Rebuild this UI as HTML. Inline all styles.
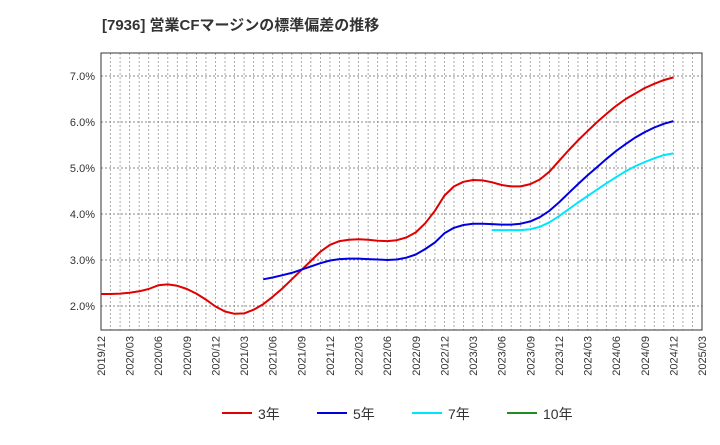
<!DOCTYPE html>
<html><head><meta charset="utf-8"><style>
body{margin:0;background:#fff;font-family:"Liberation Sans","Noto Sans CJK JP",sans-serif}
</style></head><body>
<svg id="c" width="720" height="440" xmlns="http://www.w3.org/2000/svg" font-family="Liberation Sans, Noto Sans CJK JP, sans-serif">
<text x="102" y="30" font-size="15" font-weight="bold" fill="#333">[7936]  営業CFマージンの標準偏差の推移</text>
<g id="grid"></g><g id="axes"></g><g id="series"></g>
<g id="legend"></g>
</svg>
<script>
const xLabels=["2019/12","2020/03","2020/06","2020/09","2020/12","2021/03","2021/06","2021/09","2021/12","2022/03","2022/06","2022/09","2022/12","2023/03","2023/06","2023/09","2023/12","2024/03","2024/06","2024/09","2024/12","2025/03"];
const yTicks=[2,3,4,5,6,7];
const s3=[2.26,2.26,2.27,2.29,2.32,2.37,2.45,2.47,2.44,2.37,2.27,2.14,1.99,1.88,1.83,1.84,1.92,2.04,2.2,2.38,2.58,2.78,2.98,3.18,3.33,3.41,3.44,3.45,3.44,3.42,3.41,3.43,3.49,3.6,3.8,4.07,4.4,4.6,4.7,4.74,4.73,4.69,4.63,4.6,4.6,4.65,4.75,4.92,5.15,5.38,5.6,5.8,6.0,6.18,6.35,6.5,6.62,6.74,6.83,6.91,6.97];
const s5Start=17;
const s5=[2.58,2.62,2.67,2.72,2.79,2.86,2.93,2.99,3.02,3.03,3.03,3.02,3.01,3.0,3.01,3.05,3.12,3.24,3.38,3.58,3.7,3.76,3.79,3.79,3.78,3.77,3.77,3.79,3.84,3.93,4.07,4.25,4.45,4.65,4.84,5.02,5.2,5.37,5.52,5.66,5.78,5.88,5.96,6.02];
const s7Start=41;
const s7=[3.65,3.65,3.65,3.65,3.67,3.72,3.82,3.95,4.1,4.25,4.39,4.53,4.67,4.8,4.93,5.04,5.13,5.21,5.28,5.32];
const L=101,R=702,T=53,B=330,NM=63;
const x=i=>L+(R-L)*i/NM;
const y=v=>306-(v-2)*46;
const NS="http://www.w3.org/2000/svg";
function mk(p,tag,at){const e=document.createElementNS(NS,tag);for(const k in at)e.setAttribute(k,at[k]);p.appendChild(e);return e;}
const g=document.getElementById('grid'),ax=document.getElementById('axes'),sg=document.getElementById('series'),lg=document.getElementById('legend');
mk(g,'rect',{x:L,y:T,width:R-L,height:B-T,fill:'#fff',stroke:'none'});
for(let i=1;i<NM;i++){const l=mk(g,'line',{x1:x(i),x2:x(i),y1:T,y2:B,stroke:'#999','stroke-dasharray':'2,2','stroke-width':0.8});

}
yTicks.forEach(v=>{const l=mk(g,'line',{x1:L,x2:R,y1:y(v),y2:y(v),stroke:'#888','stroke-dasharray':'2,2','stroke-width':0.9});


const t=mk(ax,'text',{x:L-6,y:y(v)+4,'text-anchor':'end','font-size':11,fill:'#333'});t.textContent=v.toFixed(1)+'%';

});
const fr=mk(ax,'rect',{x:L,y:T,width:R-L,height:B-T,fill:'none',stroke:'#333','stroke-width':1});


xLabels.forEach((s,i)=>{const xx=x(i*3);const t=mk(ax,'text',{x:0,y:0,'text-anchor':'end','font-size':11,fill:'#333',transform:`translate(${xx+4},${B+6}) rotate(-90)`});t.textContent=s;

});
function line(arr,start,col,name){const d=arr.map((v,i)=>(i?'L':'M')+x(start+i).toFixed(1)+','+y(v).toFixed(1)).join('');
const p=mk(sg,'path',{d:d,fill:'none',stroke:col,'stroke-width':2,'stroke-linejoin':'round'});

}
line(s3,0,'#e00000','series-3yr');line(s5,s5Start,'#0000e0','series-5yr');line(s7,s7Start,'#00e5ff','series-7yr');
const leg=[['3年','#e00000',222],['5年','#0000e0',317],['7年','#00e5ff',412],['10年','#228b22',507]];
leg.forEach(([n,c,lx])=>{const gg=mk(lg,'g',{});


mk(gg,'line',{x1:lx,x2:lx+30,y1:413,y2:413,stroke:c,'stroke-width':2});
const t=mk(gg,'text',{x:lx+36,y:419,'font-size':14,fill:'#333'});t.textContent=n;});
</script>
</body></html>
